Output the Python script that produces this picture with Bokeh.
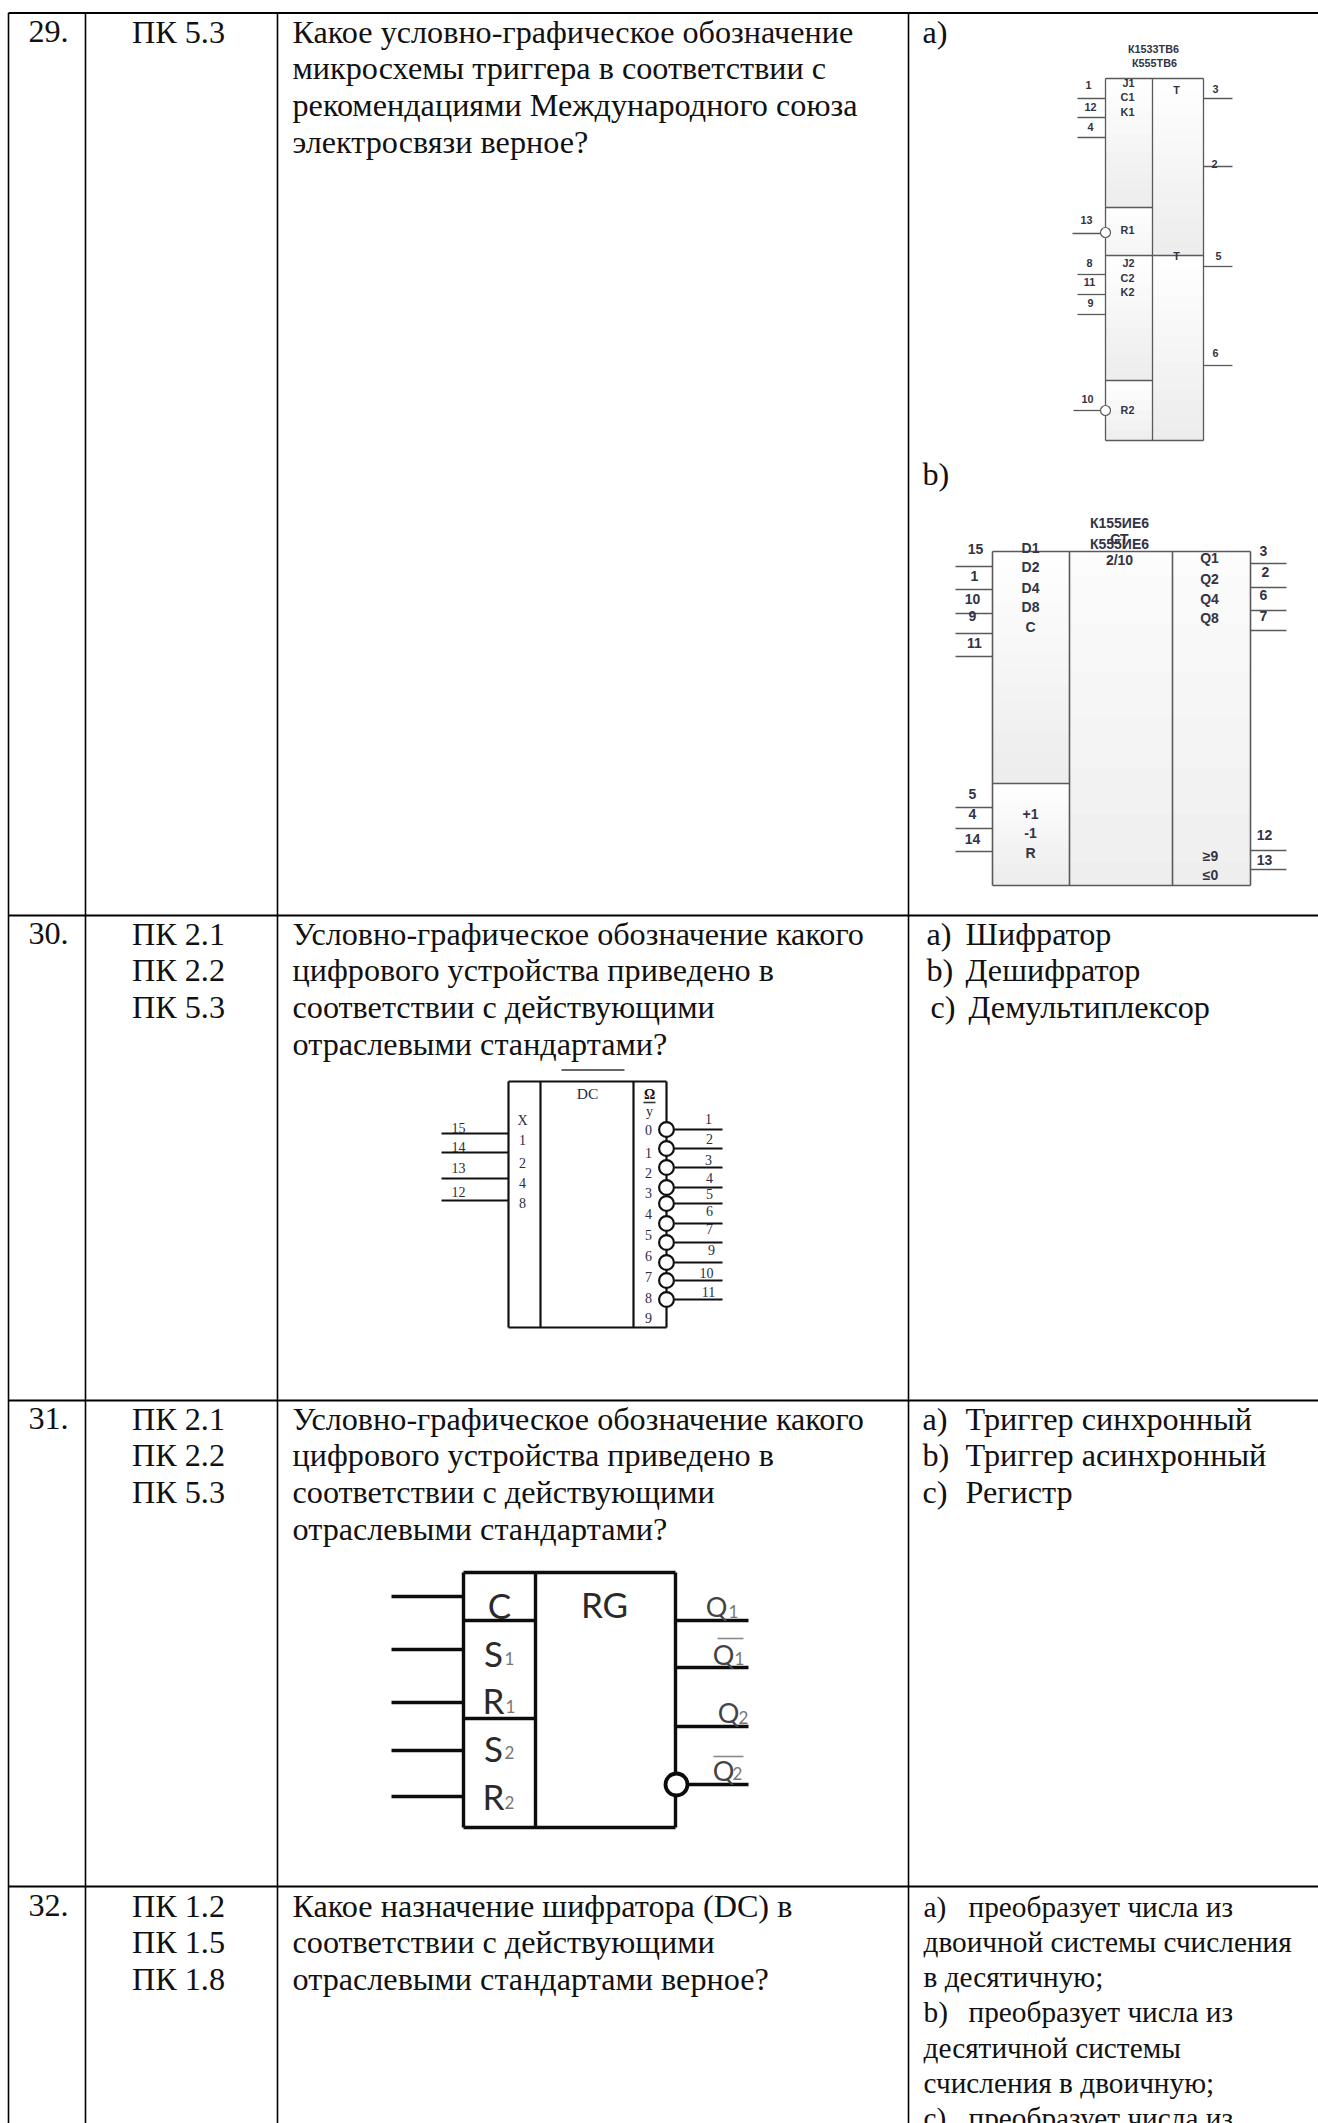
from bokeh.plotting import figure
from bokeh.models import Range1d
from bokeh.core.properties import value
from bokeh.embed import file_html
from bokeh.resources import INLINE

SERIF = "Liberation Serif"
SANS = "Liberation Sans"
LATO = "Lato"

# ---- table content ----
row_numbers = ["29.", "30.", "31.", "32."]
row_codes = [["ПК 5.3"],
             ["ПК 2.1", "ПК 2.2", "ПК 5.3"],
             ["ПК 2.1", "ПК 2.2", "ПК 5.3"],
             ["ПК 1.2", "ПК 1.5", "ПК 1.8"]]
row_questions = [
    ["Какое условно-графическое обозначение", "микросхемы триггера в соответствии с",
     "рекомендациями Международного союза", "электросвязи верное?"],
    ["Условно-графическое обозначение какого", "цифрового устройства приведено в",
     "соответствии с действующими", "отраслевыми стандартами?"],
    ["Условно-графическое обозначение какого", "цифрового устройства приведено в",
     "соответствии с действующими", "отраслевыми стандартами?"],
    ["Какое назначение шифратора (DC) в", "соответствии с действующими",
     "отраслевыми стандартами верное?"],
]
answers_30 = [("a)", "Шифратор"), ("b)", "Дешифратор"), ("c)", "Демультиплексор")]
answers_31 = [("a)", "Триггер синхронный"), ("b)", "Триггер асинхронный"), ("c)", "Регистр")]
answers_32 = [("a)", "преобразует числа из"), ("", "двоичной системы счисления"), ("", "в десятичную;"),
              ("b)", "преобразует числа из"), ("", "десятичной системы"), ("", "счисления в двоичную;"),
              ("c)", "преобразует числа из")]

# ---- table layout ----
col_edges = [8, 85, 277, 908, 1318]
row_edges = [12.5, 915, 1400, 1886, 2123]
row_baselines = [42, 944, 1429, 1916]
line_pitch = 36.6

p = figure(width=1318, height=2123, output_backend="svg", toolbar_location=None,
           x_range=Range1d(0, 1318), y_range=Range1d(2123, 0),
           x_axis_type=None, y_axis_type=None, min_border=0,
           outline_line_color=None, background_fill_color="white", border_fill_color="white")
p.grid.visible = False


def lines(xs0, ys0, xs1, ys1, color="black", width=1.5):
    p.segment(xs0, ys0, xs1, ys1, line_color=color, line_width=width)


def labels(items, font, size, color="black", style="normal", align="center", baseline="middle"):
    lift = .33 * size if baseline == "alphabetic" else 0
    p.text([i[1] for i in items], [i[2] - lift for i in items], text=[i[0] for i in items],
           text_font=value(font), text_font_size=f"{size}px", text_color=color,
           text_font_style=style, text_align=align, text_baseline=baseline)


def fade(x0, x1, y0, y1, top=255, bottom=236, steps=14):
    h = (y1 - y0) / steps
    for k in range(steps):
        g = round(top + (bottom - top) * (k + .5) / steps)
        p.quad(left=[x0], right=[x1], top=[y0 + k * h], bottom=[y0 + (k + 1) * h + .4],
               fill_color=f"#{g:02x}{g:02x}{g:02x}", line_color=None)


def hollow(xs, ys, r, color, width):
    p.circle(xs, ys, radius=r, fill_color="white", line_color=color, line_width=width)


# ---- table grid ----
lines(col_edges[:4], [row_edges[0]] * 4, col_edges[:4], [2123] * 4, width=1.6)
lines([8] * 4, row_edges[:4], [1318] * 4, row_edges[:4], width=2)

TEXT = "#111111"
FS = 32.2
body = []
for n, base in zip(row_numbers, row_baselines):
    body.append((n, 48, base))
labels(body, SERIF, FS, TEXT, baseline="alphabetic")
codes = []
for c, base in zip(row_codes, row_baselines):
    codes += [(t, 178, base + i * line_pitch) for i, t in enumerate(c)]
labels(codes, SERIF, FS, TEXT, baseline="alphabetic")
q = []
for c, base in zip(row_questions, row_baselines):
    q += [(t, 292, base + i * line_pitch) for i, t in enumerate(c)]
labels(q, SERIF, FS, TEXT, align="left", baseline="alphabetic")
a = [("a)", 922, 42), ("b)", 922, 484)]
for i, (m, t) in enumerate(answers_30):
    a.append((m, 930 if m == "c)" else 926, 944 + i * line_pitch))
    a.append((t, 968 if m == "c)" else 965, 944 + i * line_pitch))
for i, (m, t) in enumerate(answers_31):
    a.append((m, 922, 1429 + i * line_pitch))
    a.append((t, 965, 1429 + i * line_pitch))
labels(a, SERIF, FS, TEXT, align="left", baseline="alphabetic")
s = []
for i, (m, t) in enumerate(answers_32):
    yy = 1916 + i * 35.2
    if m:
        s.append((m, 923, yy))
        s.append((t, 968, yy))
    else:
        s.append((t, 923, yy))
labels(s, SERIF, 29.3, TEXT, align="left", baseline="alphabetic")

# ---- diagram a ----
G = "#5a5a5a"
fade(1105, 1152, 78, 207)
fade(1152, 1203, 78, 255)
fade(1105, 1152, 207, 255, 255, 244, 6)
fade(1105, 1152, 255, 380)
fade(1152, 1203, 255, 440)
fade(1105, 1152, 380, 440, 255, 238, 6)
lines([1105, 1105, 1105, 1203, 1152, 1105, 1105, 1105],
      [78, 440, 78, 78, 78, 255, 207, 380],
      [1203, 1203, 1105, 1203, 1152, 1203, 1152, 1152],
      [78, 440, 440, 440, 440, 255, 207, 380], G, 1.3)
lines([1077] * 6, [98, 117, 137, 274, 294, 314], [1105] * 6, [98, 117, 137, 274, 294, 314], G, 1.3)
lines([1072, 1073], [233, 410], [1100, 1100], [233, 410], G, 1.3)
lines([1203] * 4, [98, 166, 266, 365], [1232] * 4, [98, 166, 266, 365], G, 1.3)
hollow([1105, 1105], [232, 410], 5, G, 1.2)
diagram_a_labels = [("К1533ТВ6", 1153, 48), ("К555ТВ6", 1154, 62), ("1", 1088, 84), ("12", 1090, 106),
                    ("4", 1090, 126), ("13", 1086, 219), ("8", 1089, 262), ("11", 1089, 281), ("9", 1090, 302),
                    ("10", 1087, 398), ("3", 1215, 88), ("2", 1214, 163), ("5", 1218, 255), ("6", 1215, 352),
                    ("J1", 1128, 82), ("C1", 1127, 96), ("K1", 1127, 111), ("R1", 1127, 229), ("J2", 1128, 262),
                    ("C2", 1127, 277), ("K2", 1127, 291), ("R2", 1127, 409), ("T", 1176, 89), ("T", 1176, 255)]
labels(diagram_a_labels, SANS, 10.8, "#333344", "bold")

# ---- diagram b ----
fade(992, 1069, 551, 783)
fade(992, 1069, 783, 885)
fade(1069, 1172, 551, 885, 252, 238)
fade(1172, 1250, 551, 885, 252, 238)
lines([992, 992, 992, 1250, 1069, 1172, 992], [551, 885, 551, 551, 551, 551, 783],
      [1250, 1250, 992, 1250, 1069, 1172, 1069], [551, 885, 885, 885, 885, 885, 783], G, 1.6)
pins_l = [566, 589, 613, 633, 656, 807, 828, 851]
pins_r = [563, 587, 610, 630, 850, 869]
lines([955] * 8, pins_l, [992] * 8, pins_l, G, 1.3)
lines([1250] * 6, pins_r, [1286] * 6, pins_r, G, 1.3)
diagram_b_labels = [("К155ИЕ6", 1119, 522), ("К555ИЕ6", 1119, 543), ("СТ", 1119, 538), ("2/10", 1119, 559),
                    ("15", 975, 548), ("1", 974, 575), ("10", 972, 598), ("9", 972, 615), ("11", 974, 642),
                    ("5", 972, 793), ("4", 972, 813), ("14", 972, 838), ("3", 1263, 550), ("2", 1265, 571),
                    ("6", 1263, 594), ("7", 1263, 615), ("12", 1264, 834), ("13", 1264, 859),
                    ("D1", 1030, 547), ("D2", 1030, 566), ("D4", 1030, 587), ("D8", 1030, 606), ("C", 1030, 626),
                    ("+1", 1030, 813), ("-1", 1030, 832), ("R", 1030, 852), ("Q1", 1209, 557), ("Q2", 1209, 578),
                    ("Q4", 1209, 598), ("Q8", 1209, 617), ("≥9", 1210, 855), ("≤0", 1210, 874)]
labels(diagram_b_labels, SANS, 14, "#333344", "bold")

# ---- diagram c ----
lines([508, 508, 508, 666, 540, 633], [1081, 1327, 1081, 1081, 1081, 1081],
      [666, 666, 508, 666, 540, 633], [1081, 1327, 1327, 1327, 1327, 1327], "#111111", 2.2)
pins_c = [1133, 1152, 1178, 1200]
lines([441] * 4, pins_c, [508] * 4, pins_c, "#111111", 2.2)
bubbles_c = [1129, 1148, 1167, 1187, 1203, 1223, 1242, 1262, 1280, 1299]
lines([674] * 10, bubbles_c, [722] * 10, bubbles_c, "#111111", 2.2)
hollow([666] * 10, bubbles_c, 7.4, "#111111", 2.2)
lines([643, 561], [1102, 1069.5], [655, 624], [1102, 1069.5], "#333333", 1.6)
diagram_c_labels = [("15", 458, 1127), ("14", 458, 1146), ("13", 458, 1167), ("12", 458, 1191), ("X", 522, 1120),
                    ("1", 522, 1139), ("2", 522, 1162), ("4", 522, 1182), ("8", 522, 1202),
                    ("y", 649, 1111), ("0", 648, 1129), ("1", 648, 1152), ("2", 648, 1172), ("3", 648, 1192),
                    ("4", 648, 1213), ("5", 648, 1234), ("6", 648, 1255), ("7", 648, 1276), ("8", 648, 1297),
                    ("9", 648, 1317), ("1", 708, 1118), ("2", 709, 1138), ("3", 708, 1159), ("4", 709, 1177),
                    ("5", 709, 1193), ("6", 709, 1210), ("7", 709, 1228), ("9", 711, 1249), ("10", 706, 1272),
                    ("11", 708, 1291)]
labels(diagram_c_labels, SERIF, 14, "#2b2b44")
labels([("Ω", 649, 1094)], SERIF, 14, "#111111", "bold")
labels([("DC", 587, 1093)], SERIF, 15.5, "#2b2b44")

# ---- diagram d ----
K = "#0c0c0c"
lines([463, 463, 463, 675, 535, 463, 463], [1572, 1827, 1572, 1572, 1572, 1620, 1718],
      [675, 675, 463, 675, 535, 535, 535], [1572, 1827, 1827, 1827, 1827, 1620, 1718], K, 3.4)
pins_d = [1596, 1649, 1702, 1750, 1796]
lines([391] * 5, pins_d, [463] * 5, pins_d, K, 3.4)
lines([675, 675, 675, 688], [1620, 1667, 1726, 1784], [748] * 4, [1620, 1667, 1726, 1784], K, 3.4)
hollow([676], [1784], 11, K, 3.8)
lines([717, 713], [1638, 1756], [743, 743], [1638, 1756], "#8a8a8a", 1.6)
diagram_d_large = [("C", 499, 1604), ("RG", 604, 1603), ("S", 493, 1652), ("R", 493, 1699),
                   ("S", 493, 1747), ("R", 493, 1795)]
labels(diagram_d_large, LATO, 35, "#2a2a2a")
diagram_d_q = [("Q", 716, 1606), ("Q", 723, 1654), ("Q", 728, 1712), ("Q", 723, 1770)]
labels(diagram_d_q, LATO, 27, "#444444")
diagram_d_sub = [("1", 509, 1658), ("1", 510, 1706), ("2", 509, 1752), ("2", 509, 1802),
                 ("1", 733, 1611), ("1", 739, 1658), ("2", 743, 1717), ("2", 737, 1773)]
labels(diagram_d_sub, LATO, 17, "#777777")

open("out.html", "w").write(file_html(p, INLINE))
